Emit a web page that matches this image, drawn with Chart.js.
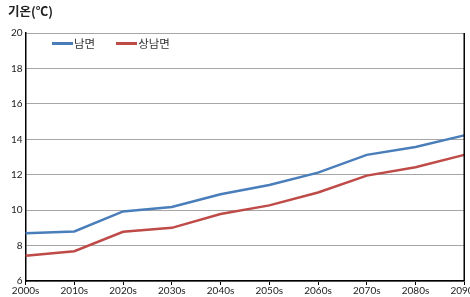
<!DOCTYPE html>
<html>
<head>
<meta charset="utf-8">
<script src="https://cdn.jsdelivr.net/npm/chart.js@4.4.1/dist/chart.umd.min.js"></script>
<style>
  html, body { margin: 0; padding: 0; background: #fff; overflow: hidden; }
  #wrap { position: relative; width: 478px; height: 297px; }
  #legend { position: absolute; left: 52px; top: 35px; display: flex;
            font-family: 'Noto Sans CJK KR', sans-serif; font-size: 11.5px; color: #333; }
  #legend .item { display: flex; align-items: center; margin-right: 21px; }
  #legend .swatch { width: 21px; height: 3px; margin-right: 1px; }
</style>
</head>
<body>
<div id="wrap">
  <canvas id="tempChart" width="478" height="297"></canvas>
  <div id="legend"></div>
</div>
<script>
// decades on the x axis
const decades = ['2000s', '2010s', '2020s', '2030s', '2040s', '2050s', '2060s', '2070s', '2080s', '2090s'];
// mean temperature (°C)
const namMyeon = [8.7, 8.8, 9.93, 10.18, 10.9, 11.42, 12.12, 13.12, 13.56, 14.22];
const sangNamMyeon = [7.42, 7.68, 8.78, 9.0, 9.78, 10.27, 11.0, 11.95, 12.42, 13.12];
const seriesNames = ['남면', '상남면'];
const seriesColors = ['#4a7ebb', '#be4b48'];

const numFont = { family: "Lato, 'Noto Sans CJK KR', sans-serif", size: 10 };

// right frame line of the plot area
const rightBorder = {
    id: 'rightBorder',
    afterDraw(chart) {
        const { ctx, chartArea } = chart;
        ctx.save();
        ctx.strokeStyle = '#000';
        ctx.lineWidth = 1.5;
        ctx.beginPath();
        ctx.moveTo(chartArea.right, chartArea.top);
        ctx.lineTo(chartArea.right, chartArea.bottom);
        ctx.stroke();
        ctx.restore();
    }
};

const ctx = document.getElementById('tempChart').getContext('2d');
const chart = new Chart(ctx, {
    type: 'line',
    data: {
        labels: decades,
        datasets: [{
            label: seriesNames[0],
            data: namMyeon,
            borderColor: seriesColors[0],
            backgroundColor: seriesColors[0],
            borderWidth: 2.5,
            pointRadius: 0,
            tension: 0
        }, {
            label: seriesNames[1],
            data: sangNamMyeon,
            borderColor: seriesColors[1],
            backgroundColor: seriesColors[1],
            borderWidth: 2.5,
            pointRadius: 0,
            tension: 0
        }]
    },
    options: {
        responsive: false,
        animation: false,
        layout: { padding: { left: 8, right: 0, top: 0, bottom: 0 } },
        plugins: {
            title: {
                display: true,
                text: '기온(℃)',
                align: 'start',
                color: '#222',
                font: { family: "'Noto Sans CJK KR', sans-serif", size: 12.5, weight: 'bold' },
                padding: { top: 4, bottom: 14 }
            },
            legend: { display: false },
            tooltip: { enabled: false }
        },
        scales: {
            x: {
                offset: false,
                grid: {
                    drawOnChartArea: false,
                    drawTicks: true,
                    tickLength: 4,
                    color: '#000'
                },
                border: { color: '#000', width: 1.5 },
                ticks: {
                    color: '#222',
                    font: numFont,
                    maxRotation: 0,
                    autoSkip: false,
                    padding: 0
                }
            },
            y: {
                min: 6,
                max: 20,
                ticks: {
                    stepSize: 2,
                    color: '#222',
                    font: numFont,
                    padding: 3
                },
                grid: {
                    color: '#a6a6a6',
                    lineWidth: 1,
                    drawTicks: false
                },
                border: { color: '#000', width: 1.5 }
            }
        }
    },
    plugins: [rightBorder]
});

// legend drawn inside the plot area, as in the original
const legendBox = document.getElementById('legend');
chart.data.datasets.forEach(ds => {
    const item = document.createElement('div');
    item.className = 'item';
    const sw = document.createElement('span');
    sw.className = 'swatch';
    sw.style.background = ds.borderColor;
    const txt = document.createElement('span');
    txt.textContent = ds.label;
    item.appendChild(sw);
    item.appendChild(txt);
    legendBox.appendChild(item);
});
</script>
</body>
</html>
